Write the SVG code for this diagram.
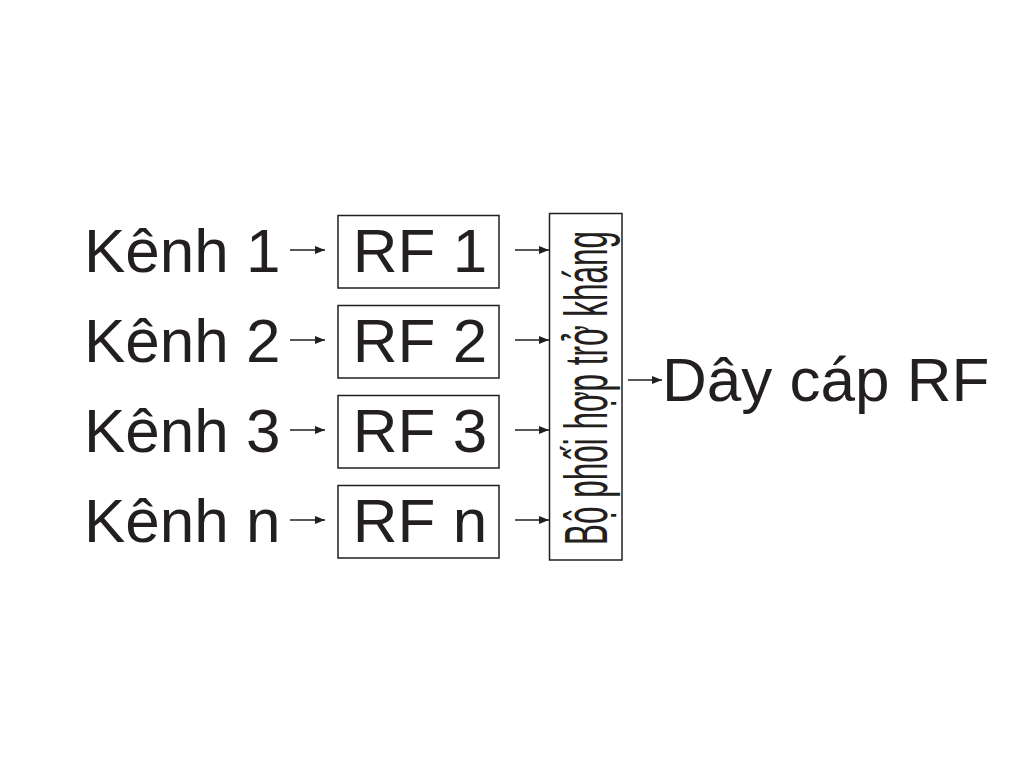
<svg xmlns="http://www.w3.org/2000/svg" width="1024" height="768" viewBox="0 0 1024 768">
<style>
.t{font-family:"Liberation Sans",Arial,sans-serif;fill:#231f20;font-size:62px}
.b{fill:none;stroke:#231f20;stroke-width:1.5}
.c{stroke:#231f20;stroke-width:1.3;fill:none;marker-end:url(#ah)}
</style>
<defs>
<marker id="ah" viewBox="0 0 10 8" refX="10" refY="4" markerWidth="10" markerHeight="8" markerUnits="userSpaceOnUse" orient="auto">
<path d="M0,0 L10,4 L0,8 Z" fill="#231f20"/>
</marker>
</defs>
<rect width="1024" height="768" fill="#fff"/>
<g id="k1"><text class="t" x="84" y="272">Kênh 1</text></g>
<g id="k2"><text class="t" x="84" y="362">Kênh 2</text></g>
<g id="k3"><text class="t" x="84" y="452">Kênh 3</text></g>
<g id="kn"><text class="t" x="84" y="542">Kênh n</text></g>
<g id="rf1"><rect class="b" x="338" y="215.5" width="161" height="72.5"/><text class="t" x="420" y="272" text-anchor="middle">RF 1</text></g>
<g id="rf2"><rect class="b" x="338" y="305.5" width="161" height="72.5"/><text class="t" x="420" y="362" text-anchor="middle">RF 2</text></g>
<g id="rf3"><rect class="b" x="338" y="395.5" width="161" height="72.5"/><text class="t" x="420" y="452" text-anchor="middle">RF 3</text></g>
<g id="rfn"><rect class="b" x="338" y="485.5" width="161" height="72.5"/><text class="t" x="420" y="542" text-anchor="middle">RF n</text></g>
<g id="match"><rect class="b" x="549.5" y="213.5" width="72.5" height="346.5"/>
<text class="t" transform="translate(607,545) rotate(-90)" textLength="314" lengthAdjust="spacingAndGlyphs">Bộ phối hợp trở kháng</text></g>
<g id="cable"><text class="t" x="662" y="401">Dây cáp RF</text></g>
<g id="connectors">
<line class="c" x1="290" y1="250" x2="325" y2="250"/>
<line class="c" x1="290" y1="340" x2="325" y2="340"/>
<line class="c" x1="290" y1="430" x2="325" y2="430"/>
<line class="c" x1="290" y1="520" x2="325" y2="520"/>
<line class="c" x1="515" y1="250" x2="549" y2="250"/>
<line class="c" x1="515" y1="340" x2="549" y2="340"/>
<line class="c" x1="515" y1="430" x2="549" y2="430"/>
<line class="c" x1="515" y1="520" x2="549" y2="520"/>
<line class="c" x1="628" y1="380" x2="662" y2="380"/>
</g>
</svg>
